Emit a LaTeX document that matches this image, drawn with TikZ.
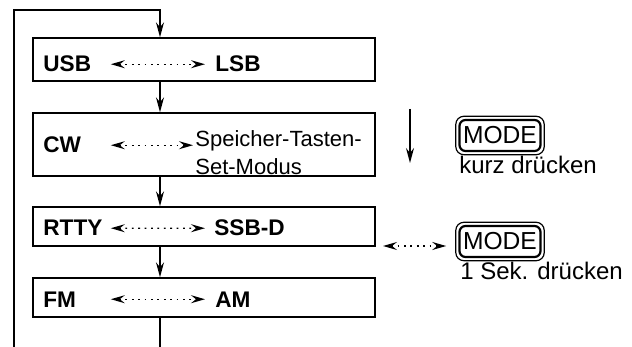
\documentclass[tikz,border=0pt]{standalone}
\usepackage{fontspec}
\setmainfont{Liberation Sans}
\usetikzlibrary{arrows.meta, positioning, fit}

\begin{document}
\begin{tikzpicture}[x=0.5pt, y=-0.5pt,
    modebox/.style={rectangle, draw=black, line width=0.7pt, minimum width=171pt, minimum height=19.5pt, inner sep=0pt},
    modename/.style={font=\fontsize{11.3}{13}\selectfont\bfseries, inner sep=0pt, anchor=base west},
    leftname/.style={modename, text width=33.5pt, align=left},
    flow/.style={-{Stealth[length=7.5pt, width=4pt, inset=2.5pt]}, line width=0.7pt},
    toggle/.style={{Stealth[length=7pt, width=4pt, inset=2.5pt]}-{Stealth[length=7pt, width=4pt, inset=2.5pt]}, line width=0.7pt, dash pattern=on 0.9pt off 2.3pt},
    keycap/.style={rectangle, rounded corners=3pt, draw=black, line width=1.1pt, minimum width=40.5pt, minimum height=15.5pt, inner sep=0.5pt, font=\fontsize{12.3}{14}\selectfont},
    keyrim/.style={rectangle, rounded corners=4pt, draw=black, line width=0.6pt, inner sep=1.3pt},
    hint/.style={font=\fontsize{12}{14}\selectfont, inner sep=0pt, anchor=base west}
]
    \useasboundingbox (0,0) rectangle (632,347);

    % Mode boxes
    \node[modebox, minimum height=21.5pt] (usbbox) at (204,59.5) {};
    \node[modebox, minimum height=31.5pt] (cwbox) at (204,144.5) {};
    \node[modebox] (rttybox) at (204,226.5) {};
    \node[modebox] (fmbox) at (204,297.5) {};

    % Mode names
    \node[leftname] (usb) at (43,72) {USB};
    \node[modename] (lsb) at (215,72) {LSB};
    \node[leftname] (cw) at (43,153) {CW};
    \node[font=\fontsize{11}{14}\selectfont, align=left, inner sep=0pt, anchor=north west] (memkey) at (195,130) {Speicher-Tasten-\\Set-Modus};
    \node[leftname] (rtty) at (43,236) {RTTY};
    \node[modename] (ssbd) at (214,236) {SSB-D};
    \node[leftname] (fm) at (43,307) {FM};
    \node[modename] (am) at (215,307) {AM};

    % Toggles inside the boxes
    \draw[toggle, shorten >=5pt] (usb.east) -- (lsb.west);
    \draw[toggle, shorten >=1pt] (cw.east) -- (cw.east -| memkey.west);
    \draw[toggle, shorten >=4.5pt] (rtty.east) -- (ssbd.west);
    \draw[toggle, shorten >=5pt] (fm.east) -- (am.west);

    % Main loop
    \coordinate (loopstart) at (14,347);
    \coordinate (loopcorner) at (14,10);
    \coordinate (looptop) at (160,10);
    \coordinate (loopend) at (160,347);
    \draw[flow] (loopstart) -- (loopcorner) -- (looptop) -- (looptop |- usbbox.north);
    \draw[flow] (usbbox.south -| looptop) -- (cwbox.north -| looptop);
    \draw[flow] (cwbox.south -| looptop) -- (rttybox.north -| looptop);
    \draw[flow] (rttybox.south -| looptop) -- (fmbox.north -| looptop);
    \draw[line width=0.7pt] (fmbox.south -| looptop) -- (loopend);

    % Legend
    \coordinate (pressshort) at (410,109);
    \coordinate (pressshortend) at (410,163);
    \draw[flow] (pressshort) -- (pressshortend);
    \node[keycap] (shortkey) at (500,135.5) {MODE};
    \node[keyrim, fit=(shortkey)] (shortrim) {};
    \node[hint] (shorthint) at (459,174) {kurz drücken};

    \node[keycap] (longkey) at (500,241.5) {MODE};
    \node[keyrim, fit=(longkey)] (longrim) {};
    \node[hint] (longhint) at (460,280) {1 Sek. drücken};
    \coordinate (presslong) at (383,246);
    \draw[toggle, shorten >=4.5pt] (presslong) -- (presslong -| longrim.west);
\end{tikzpicture}
\end{document}
